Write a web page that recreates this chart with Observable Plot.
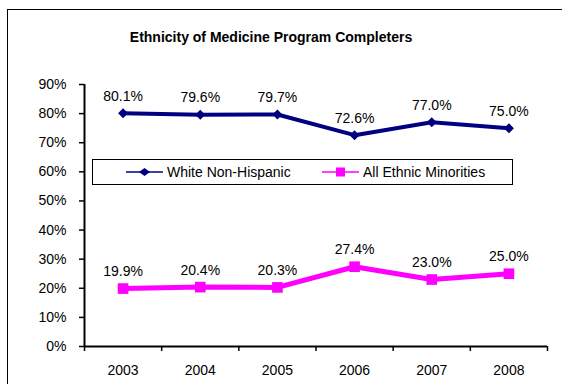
<!DOCTYPE html>
<html>
<head>
<meta charset="utf-8">
<script src="https://cdn.jsdelivr.net/npm/d3@7"></script>
<script src="https://cdn.jsdelivr.net/npm/@observablehq/plot@0.6"></script>
<style>
  html, body { margin: 0; padding: 0; background: #fff; }
  body { font-family: "Liberation Sans", Arial, sans-serif; }
  #wrap { position: relative; width: 562px; height: 384px; overflow: hidden; }
  #frame { position: absolute; left: 7px; top: 9px; width: 600px; height: 420px; border: 1px solid #000; box-sizing: border-box; pointer-events: none; }
  #title { position: absolute; left: 0; top: 29px; width: 542px; text-align: center; font-weight: bold; font-size: 14px; color: #000; }
  #legend { position: absolute; left: 92px; top: 159px; width: 421px; height: 26px; border: 1px solid #000; box-sizing: border-box; background: #fff; font-size: 14px; }
  .entry { position: absolute; top: 0; height: 24px; display: flex; align-items: center; white-space: nowrap; }
  .entry svg { margin-right: 4px; }
  #chart { position: absolute; left: 0; top: 0; }
</style>
</head>
<body>
<div id="wrap">
  <div id="chart"></div>
  <div id="frame"></div>
  <div id="title"></div>
  <div id="legend"></div>
</div>
<script>
const titleText = "Ethnicity of Medicine Program Completers";
const years = [2003, 2004, 2005, 2006, 2007, 2008];
const seriesNames = ["White Non-Hispanic", "All Ethnic Minorities"];
const whiteValues = [80.1, 79.6, 79.7, 72.6, 77.0, 75.0];
const minorityValues = [19.9, 20.4, 20.3, 27.4, 23.0, 25.0];
const yTicks = [0, 10, 20, 30, 40, 50, 60, 70, 80, 90];
const colors = ["#000080", "#FF00FF"];

const rows = [];
years.forEach((yr, i) => {
  rows.push({year: yr, value: whiteValues[i], series: seriesNames[0]});
  rows.push({year: yr, value: minorityValues[i], series: seriesNames[1]});
});
const white = rows.filter(d => d.series === seriesNames[0]);
const minor = rows.filter(d => d.series === seriesNames[1]);
const bounds = years.map(y => y - 0.5).concat([years[years.length - 1] + 0.5]);
const xDomain = [bounds[0], bounds[bounds.length - 1]];
const fmt = v => v.toFixed(1) + "%";

const chart = Plot.plot({
  width: 562,
  height: 384,
  marginLeft: 84,
  marginRight: 15,
  marginTop: 84,
  marginBottom: 38,
  style: {fontFamily: '"Liberation Sans", Arial, sans-serif', fontSize: "14px", color: "#000", background: "transparent"},
  x: {domain: xDomain, axis: null},
  y: {domain: [0, 90], axis: null},
  marks: [
    Plot.axisY({ticks: yTicks, tickFormat: d => d + "%", tickSize: 5, tickPadding: 13, label: null, fontSize: 14, stroke: "#000", strokeWidth: 1.5}),
    Plot.axisX({ticks: bounds, tickFormat: () => "", tickSize: 5, label: null, stroke: "#000", strokeWidth: 1.5}),
    Plot.axisX({ticks: years, tickFormat: d => String(d), tickSize: 0, tickPadding: 19, label: null, fontSize: 14}),
    Plot.ruleX([xDomain[0]], {stroke: "#000", strokeWidth: 2}),
    Plot.ruleY([0], {stroke: "#000", strokeWidth: 2}),
    Plot.line(white, {x: "year", y: "value", stroke: colors[0], strokeWidth: 4}),
    Plot.dot(white, {x: "year", y: "value", symbol: "diamond2", r: 4.5, fill: colors[0], stroke: "none"}),
    Plot.line(minor, {x: "year", y: "value", stroke: colors[1], strokeWidth: 5}),
    Plot.dot(minor, {x: "year", y: "value", symbol: "square", r: 6, fill: colors[1], stroke: "none"}),
    Plot.text(rows, {x: "year", y: "value", text: d => fmt(d.value), dy: -17, fontSize: 14, fill: "#000"})
  ]
});
document.getElementById("chart").appendChild(chart);
document.getElementById("title").textContent = titleText;

const legend = document.getElementById("legend");
const symbols = ["diamond", "square"];
const lefts = [33, 229];
seriesNames.forEach((name, i) => {
  const e = document.createElement("div");
  e.className = "entry";
  e.style.left = lefts[i] + "px";
  const sym = symbols[i] === "diamond"
    ? `<polygon points="13,6 18.5,2 24,6 18.5,10" fill="${colors[i]}"/>`
    : `<rect x="14" y="1.5" width="9" height="9" fill="${colors[i]}"/>`;
  e.innerHTML = `<svg width="37" height="12"><line x1="0" y1="6" x2="37" y2="6" stroke="${colors[i]}" stroke-width="1.5"/>${sym}</svg><span>${name}</span>`;
  legend.appendChild(e);
});
</script>
</body>
</html>
